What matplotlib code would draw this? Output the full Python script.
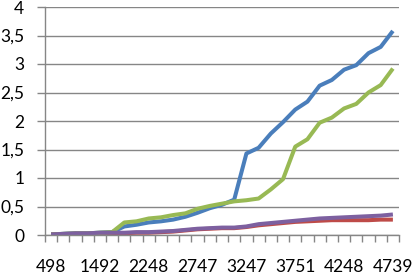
import matplotlib
matplotlib.use("Agg")
import matplotlib.pyplot as plt
import matplotlib.ticker as mticker

# Category labels (only every 4th category carries a label)
x_labels = ["498", "1492", "2248", "2747", "3247", "3751", "4248", "4739"]
label_step = 4

# Series values, one per category (29 categories)
blue = [0.01, 0.02, 0.03, 0.03, 0.04, 0.05, 0.15, 0.18, 0.22, 0.24, 0.27, 0.32, 0.39, 0.47,
        0.53, 0.62, 1.43, 1.53, 1.78, 1.98, 2.20, 2.34, 2.62, 2.72, 2.90, 2.98, 3.19, 3.30, 3.58]
red = [0.01, 0.01, 0.02, 0.02, 0.03, 0.03, 0.03, 0.04, 0.04, 0.05, 0.06, 0.08, 0.10, 0.11,
       0.12, 0.12, 0.14, 0.17, 0.19, 0.21, 0.23, 0.24, 0.25, 0.26, 0.26, 0.26, 0.26, 0.27, 0.27]
green = [0.01, 0.02, 0.03, 0.03, 0.04, 0.05, 0.22, 0.24, 0.29, 0.31, 0.35, 0.38, 0.46, 0.51,
         0.55, 0.59, 0.61, 0.64, 0.80, 0.98, 1.55, 1.68, 1.97, 2.06, 2.22, 2.30, 2.50, 2.63, 2.92]
purple = [0.01, 0.02, 0.03, 0.03, 0.04, 0.04, 0.04, 0.05, 0.05, 0.06, 0.07, 0.09, 0.11, 0.12,
          0.13, 0.13, 0.15, 0.19, 0.21, 0.23, 0.25, 0.27, 0.29, 0.30, 0.31, 0.32, 0.33, 0.34, 0.36]

series = [blue, red, green, purple]
colors = ["#4A7EBB", "#BE4B48", "#98B954", "#7D60A0"]

plt.rcParams['font.family'] = ['Lato', 'DejaVu Sans']

fig = plt.figure(figsize=(4.12, 2.75), dpi=100)
ax = fig.add_axes([45 / 412, 1 - 235 / 275, 354 / 412, 228 / 275])

n = len(blue)
xs = list(range(n))
for vals, c in zip(series, colors):
    ax.plot(xs, vals, color=c, linewidth=2.9, solid_joinstyle='round', solid_capstyle='butt')

grid_c = "#868686"
ax.set_xlim(-0.5, n - 0.5)
ax.set_ylim(0, 4)
ax.yaxis.set_major_locator(mticker.MultipleLocator(0.5))
ax.yaxis.set_major_formatter(mticker.FuncFormatter(
    lambda v, _: f"{v:g}".replace(".", ",")))
ax.grid(axis='y', color=grid_c, linewidth=1.0)
ax.set_axisbelow(True)

ax.set_xticks(range(0, n, label_step))
ax.set_xticklabels(x_labels)
ax.set_xticks([i - 0.5 for i in range(n + 1)], minor=True)
ax.tick_params(axis='x', which='major', length=0, pad=17, labelsize=12.5)
ax.tick_params(axis='x', which='minor', length=5, width=1, color=grid_c, direction='out')
ax.tick_params(axis='y', length=6, width=1, color=grid_c, pad=9, labelsize=12.5)

for s in ["top", "right"]:
    ax.spines[s].set_visible(False)
for s in ["left", "bottom"]:
    ax.spines[s].set_color(grid_c)
    ax.spines[s].set_linewidth(1.0)

fig.savefig("out.png", dpi=100)
